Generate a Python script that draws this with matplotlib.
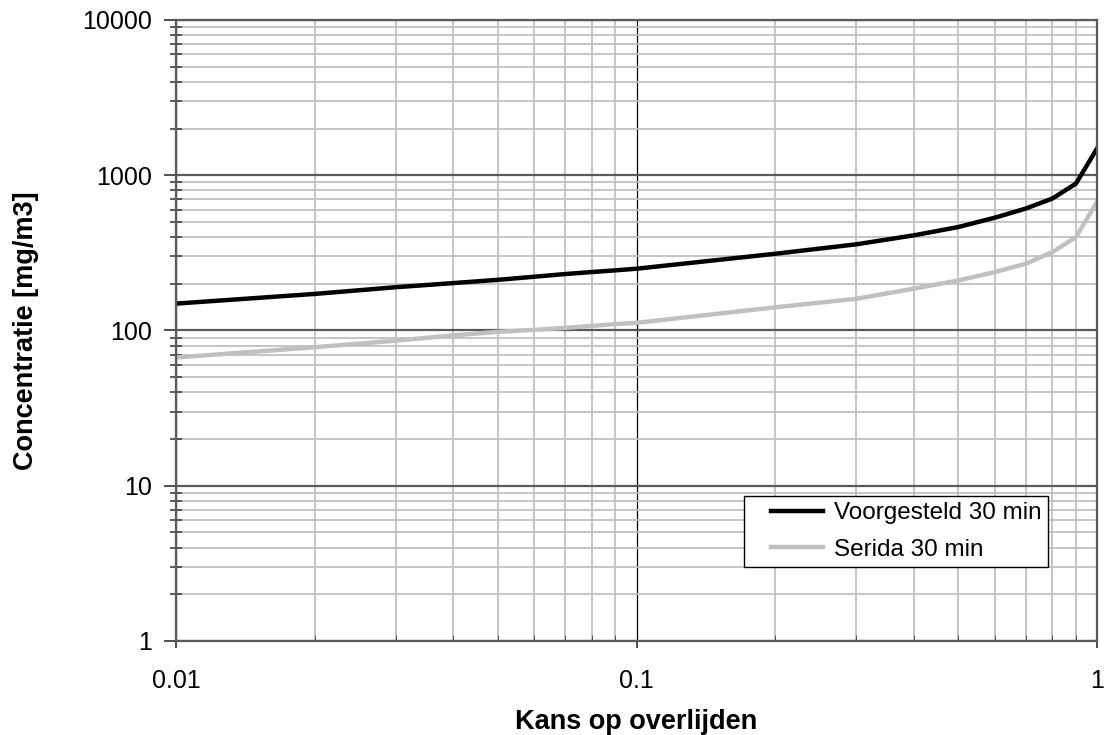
import matplotlib.pyplot as plt
from matplotlib.lines import Line2D
from matplotlib.legend_handler import HandlerLine2D
from matplotlib.ticker import LogLocator, FixedLocator, NullFormatter

plt.rcParams['font.family'] = ['Liberation Sans', 'DejaVu Sans']

# kans op overlijden (x) en concentratie [mg/m3] (y)
kans = [0.01, 0.02, 0.03, 0.04, 0.05, 0.06, 0.07, 0.08, 0.09, 0.1,
        0.2, 0.3, 0.4, 0.5, 0.6, 0.7, 0.8, 0.9, 1.0]
voorgesteld = [149, 172, 190, 202, 212, 222, 231, 238, 244, 250,
               312, 359, 410, 464, 533, 610, 708, 884, 1486]
serida = [67, 78, 86, 93, 98, 101, 104, 107, 110, 112,
          141, 160, 186, 210, 238, 269, 320, 400, 673]

x_ticks = [0.01, 0.1, 1]
x_labels = ["0.01", "0.1", "1"]
y_ticks = [1, 10, 100, 1000, 10000]
y_labels = ["1", "10", "100", "1000", "10000"]

fig = plt.figure(figsize=(11.06, 7.35), dpi=100)
ax = fig.add_axes([0.1591, 0.1279, 0.8328, 0.8449])

ax.set_xscale('log')
ax.set_yscale('log')
ax.set_xlim(0.01, 1)
ax.set_ylim(1, 10000)

# rasterlijnen
ax.xaxis.set_minor_locator(LogLocator(base=10, subs=range(2, 10)))
ax.yaxis.set_minor_locator(LogLocator(base=10, subs=range(2, 10)))
ax.grid(True, which='minor', color='#c0c0c0', linewidth=1.3)
ax.grid(True, which='major', axis='y', color='#5a5a5a', linewidth=1.6)
ax.grid(True, which='major', axis='x', color='black', linewidth=0.9)
ax.set_axisbelow(True)

ax.plot(kans, voorgesteld, color='black', linewidth=3.2, label='Voorgesteld 30 min',
        solid_joinstyle='round')
ax.plot(kans, serida, color='#c0c0c0', linewidth=3.2, label='Serida 30 min',
        solid_joinstyle='round')

ax.xaxis.set_major_locator(FixedLocator(x_ticks))
ax.set_xticklabels(x_labels)
ax.yaxis.set_major_locator(FixedLocator(y_ticks))
ax.set_yticklabels(y_labels)
ax.xaxis.set_minor_formatter(NullFormatter())
ax.yaxis.set_minor_formatter(NullFormatter())

ax.tick_params(axis='both', which='major', labelsize=18, color='#404040', width=1.3)
ax.tick_params(axis='x', which='major', direction='out', length=5, pad=15)
ax.tick_params(axis='y', which='major', direction='out', length=9, pad=8)
ax.tick_params(axis='x', which='minor', direction='in', length=4, color='#404040')
ax.tick_params(axis='y', which='minor', direction='inout', length=8, color='#404040', width=1.2)

for side in ['left', 'right', 'top', 'bottom']:
    ax.spines[side].set_color('#5a5a5a')
    ax.spines[side].set_linewidth(1.6)

ax.set_xlabel("Kans op overlijden", fontsize=19.5, fontweight='bold', labelpad=12)
ax.set_ylabel("Concentratie [mg/m3]", fontsize=19.5, fontweight='bold', labelpad=31)

# legenda: lijnstukje iets naar rechts, zoals in Excel
leg = ax.legend(loc='upper left', bbox_to_anchor=(0.6167, 0.2335), borderaxespad=0,
                fontsize=17.5, fancybox=False, framealpha=1, edgecolor='black',
                handlelength=3.0, handletextpad=0.45, borderpad=0.25, labelspacing=0.6,
                handler_map={Line2D: HandlerLine2D(xpad=0.85)})
leg.get_frame().set_linewidth(1.0)

fig.savefig('out.png', dpi=100)
